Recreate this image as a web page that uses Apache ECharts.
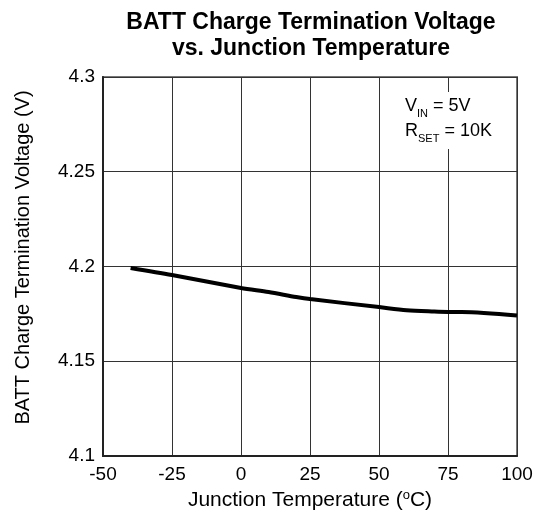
<!DOCTYPE html>
<html><head><meta charset="utf-8">
<script src="https://cdn.jsdelivr.net/npm/echarts@6/dist/echarts.min.js"></script>
<style>html,body{margin:0;padding:0;background:#fff}#c{width:542px;height:510px}</style>
</head><body><div id="c"></div>
<script>
var temps = [-40, -25, 0, 10, 20, 25, 50, 60, 70, 75, 80, 100];
var voltage = [4.1992, 4.1955, 4.1887, 4.1865, 4.1839, 4.1828, 4.1786, 4.1769, 4.1762, 4.1760, 4.1760, 4.1741];
var xTicks = {min: -50, max: 100, interval: 25};
var yTicks = {min: 4.1, max: 4.3, interval: 0.05};

var font = 'Liberation Sans, Arial, sans-serif';
var chart = echarts.init(document.getElementById('c'), null, {renderer: 'canvas'});
chart.setOption({
  animation: false,
  backgroundColor: '#fff',
  title: {
    text: 'BATT Charge Termination Voltage\nvs. Junction Temperature',
    left: 306, top: 5, textAlign: 'center',
    textStyle: {fontFamily: font, fontSize: 23, fontWeight: 'bold', color: '#000', lineHeight: 26}
  },
  grid: {left: 103, top: 77, right: 25, bottom: 54, containLabel: false, outerBoundsMode: 'none', show: true, borderColor: '#777', borderWidth: 2},
  xAxis: {
    type: 'value', min: xTicks.min, max: xTicks.max, interval: xTicks.interval,
    name: 'Junction Temperature ({s|o}C)', nameLocation: 'middle', nameGap: 29,
    nameTextStyle: {fontFamily: font, fontSize: 21, color: '#000', rich: {s: {fontSize: 13, verticalAlign: 'top', padding: [0,0,9,0], fontFamily: font, color: '#000'}}},
    axisLine: {show: true, onZero: false, lineStyle: {color: '#222', width: 2}},
    axisTick: {show: false},
    axisLabel: {fontFamily: font, fontSize: 19, color: '#000', margin: 9},
    splitLine: {show: true, lineStyle: {color: '#333', width: 1}}
  },
  yAxis: {
    type: 'value', min: yTicks.min, max: yTicks.max, interval: yTicks.interval,
    axisLine: {show: true, onZero: false, lineStyle: {color: '#222', width: 2}},
    axisTick: {show: false},
    axisLabel: {fontFamily: font, fontSize: 19, color: '#000', margin: 8},
    splitLine: {show: true, lineStyle: {color: '#333', width: 1}}
  },
  graphic: [{
    type: 'text', x: 33, y: 257.5, rotation: Math.PI / 2, z: 100,
    style: {
      text: 'BATT Charge Termination Voltage (V)',
      fontFamily: font, fontSize: 20, fill: '#000',
      align: 'center', verticalAlign: 'bottom'
    }
  }, {
    type: 'text', left: 401, top: 92, z: 100,
    style: {
      text: '{n|V}{s|IN}{n| = 5V}\n{n|R}{s|SET}{n| = 10K}',
      backgroundColor: '#fff', padding: [2, 6, 5, 4],
      rich: {
        n: {fontFamily: font, fontSize: 18, color: '#000', lineHeight: 25},
        s: {fontFamily: font, fontSize: 11, color: '#000', verticalAlign: 'bottom', lineHeight: 6}
      }
    }
  }],
  series: [{
    type: 'line', data: temps.map(function(t, i){ return [t, voltage[i]]; }),
    showSymbol: false, smooth: 0.3,
    lineStyle: {color: '#000', width: 4}
  }]
});
</script></body></html>
